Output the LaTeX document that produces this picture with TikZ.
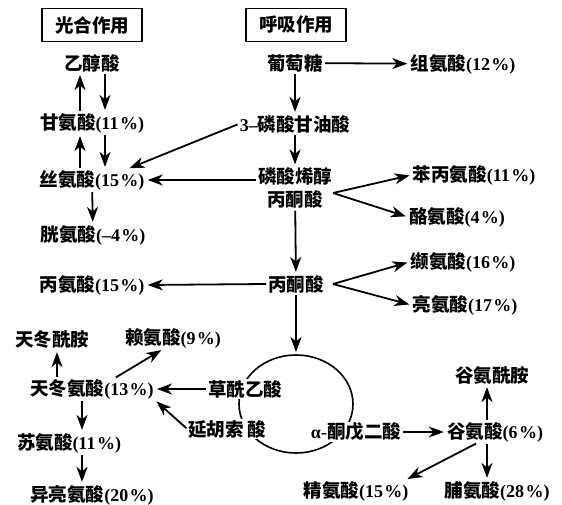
\documentclass[tikz,border=0pt]{standalone}
\usepackage{fontspec}
\setmainfont{Liberation Serif}
\newfontfamily\cjk{Noto Sans CJK SC}
\usetikzlibrary{arrows.meta}
\newcommand\zh[1]{{\fontsize{18.5}{20}\selectfont\cjk\bfseries #1}}
\newcommand\pc{\kern1.5pt\%}
\begin{document}
\begin{tikzpicture}[x=1pt,y=-1pt,
  lbl/.style={font=\fontsize{18}{23}\selectfont\bfseries, inner sep=1pt, fill=white, align=center},
  ttl/.style={lbl, draw, line width=1.6pt, minimum width=100pt, minimum height=33pt},
  arr/.style={line width=1.8pt, -{Stealth[length=15pt,width=11pt,inset=4.5pt]}, shorten <=1pt, shorten >=2pt},
  cyc/.style={line width=1.6pt}]
\useasboundingbox[fill=white] (0,0) rectangle (562,505);

% TCA cycle
\draw[cyc] (296,404) ellipse [x radius=57, y radius=49];
\coordinate (ctop) at (296,354);

% titles
\node[ttl] (t1) at (92,25) {\zh{光合作用}};
\node[ttl] (t2) at (296,25) {\zh{呼吸作用}};

% nodes
\node[lbl] (gly) at (92,63) {\zh{乙醇酸}};
\node[lbl] (glc) at (295,63) {\zh{葡萄糖}};
\node[lbl] (his) at (463,64) {\zh{组氨酸}(12\pc)};
\node[lbl] (gla) at (92,123) {\zh{甘氨酸}(11\pc)};
\node[lbl] (pga) at (295,124) {3–\zh{磷酸甘油酸}};
\node[lbl] (ser) at (92,180) {\zh{丝氨酸}(15\pc)};
\node[lbl] (pep) at (295,188) {\zh{磷酸烯醇}\\\zh{丙酮酸}};
\node[lbl] (phe) at (474,175) {\zh{苯丙氨酸}(11\pc)};
\node[lbl] (tyr) at (457,217) {\zh{酪氨酸}(4\pc)};
\node[lbl] (cys) at (93,235) {\zh{胱氨酸}(–4\pc)};
\node[lbl] (ala) at (92,285) {\zh{丙氨酸}(15\pc)};
\node[lbl] (pyr) at (296,284) {\zh{丙酮酸}};
\node[lbl] (val) at (463,262) {\zh{缬氨酸}(16\pc)};
\node[lbl] (leu) at (465,305) {\zh{亮氨酸}(17\pc)};
\node[lbl] (asn) at (52,340) {\zh{天冬酰胺}};
\node[lbl] (lys) at (173,338) {\zh{赖氨酸}(9\pc)};
\node[lbl] (asp) at (92,389) {\zh{天冬氨酸}(13\pc)};
\node[lbl] (oaa) at (245,389) {\zh{草酰乙酸}};
\node[lbl] (fum) at (227,429) {\zh{延胡索\,酸}};
\node[lbl] (akg) at (356,432) {α-\zh{酮戊二酸}};
\node[lbl] (glu) at (495,432) {\zh{谷氨酸}(6\pc)};
\node[lbl] (gln) at (492,375) {\zh{谷氨酰胺}};
\node[lbl] (thr) at (69,443) {\zh{苏氨酸}(11\pc)};
\node[lbl] (ile) at (92,495) {\zh{异亮氨酸}(20\pc)};
\node[lbl] (arg) at (356,491) {\zh{精氨酸}(15\pc)};
\node[lbl] (pro) at (497,491) {\zh{脯氨酸}(28\pc)};

% fork points
\coordinate (f1) at (333,193);
\coordinate (f2) at (333,284);

% respiration chain
\draw[arr] (glc) -- (his);
\draw[arr] (glc) -- (pga);
\draw[arr] (pga) -- (pep);
\draw[arr] (pep) -- (pyr);
\draw[arr] (pyr) -- (ctop);
\draw[arr] (pga.west) -- ([xshift=-18pt]ser.north east);
\draw[arr] (ser.east -| pep.west) -- (ser.east);
\draw[arr] (pyr.west) -- (ala.east);
\draw[arr, shorten <=0pt] (f1) -- (phe.west);
\draw[arr, shorten <=0pt] (f1) -- (tyr.west);
\draw[arr, shorten <=0pt] (f2) -- (val.west);
\draw[arr, shorten <=0pt] (f2) -- (leu.west);

% photosynthesis side
\draw[arr] ([xshift=-12pt]gla.north) -- ([xshift=-12pt]gly.south);
\draw[arr] ([xshift=13pt]gly.south) -- ([xshift=13pt]gla.north);
\draw[arr] ([xshift=-12pt]ser.north) -- ([xshift=-12pt]gla.south);
\draw[arr] ([xshift=13pt]gla.south) -- ([xshift=13pt]ser.north);
\draw[arr] (ser) -- (cys);

% aspartate family
\draw[arr] ([xshift=-35pt]asp.north) -- ([xshift=5pt]asn.south);
\draw[arr] ([xshift=23pt]asp.north) -- ([xshift=-10pt]lys.south);
\draw[arr] (oaa.west) -- (asp.east);
\draw[arr] (fum.west) -- (asp.south east);
\draw[arr] ([xshift=-10pt]asp.south) -- ([xshift=13pt]thr.north);
\draw[arr] ([xshift=13pt]thr.south) -- ([xshift=-10pt]ile.north);

% glutamate family
\draw[arr] (akg.east) -- (glu.west);
\draw[arr] ([xshift=-8pt]glu.north) -- ([xshift=-5pt]gln.south);
\draw[arr] ([xshift=-8pt]glu.south) -- ([xshift=-10pt]pro.north);
\draw[arr] ([xshift=-18pt]glu.south) -- ([xshift=-4pt]arg.north east);
\end{tikzpicture}
\end{document}
